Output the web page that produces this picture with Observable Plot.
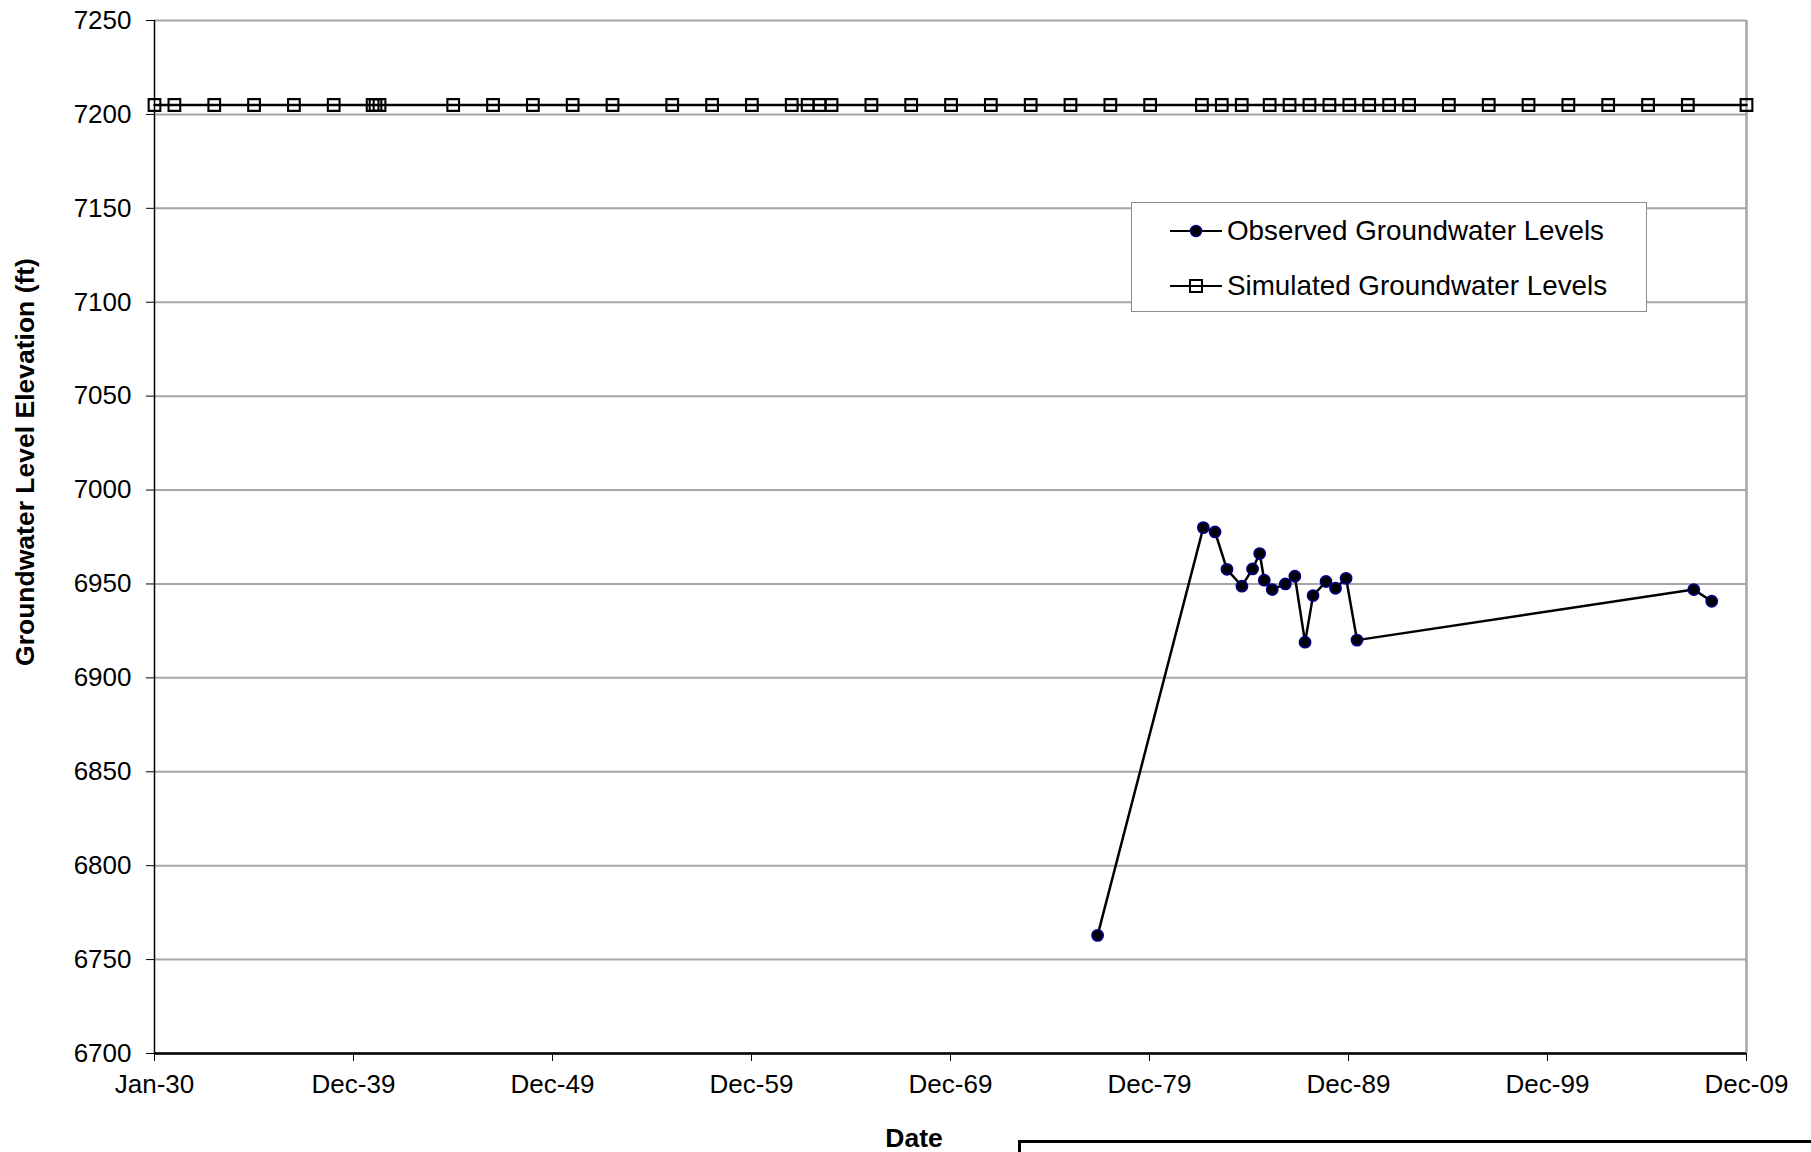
<!DOCTYPE html>
<html>
<head>
<meta charset="utf-8">
<script src="https://cdn.jsdelivr.net/npm/d3@7"></script>
<script src="https://cdn.jsdelivr.net/npm/@observablehq/plot@0.6"></script>
<style>
  html, body { margin: 0; padding: 0; background: #fff; overflow: hidden; }
  #wrap { position: relative; width: 1811px; height: 1152px; font-family: "Liberation Sans", Arial, sans-serif; color: #000; }
  #chart { position: absolute; left: 0; top: 0; }
  .lbl { position: absolute; font-weight: bold; font-size: 26.5px; white-space: nowrap; transform: translate(-50%, -50%); }
  #ytitle { transform: translate(-50%, -50%) rotate(-90deg); }
  #legend { position: absolute; left: 1131px; top: 202px; width: 516px; height: 110px; border: 1px solid #8c8c8c; background: #fff; box-sizing: border-box; }
  .item { position: absolute; left: 0; display: flex; align-items: center; font-size: 27.8px; height: 30px; }
  .item svg { margin-left: 38px; margin-right: 5px; }
  #bottombox { position: absolute; left: 1018px; top: 1140px; width: 900px; height: 100px; border: 3px solid #000; box-sizing: border-box; }
</style>
</head>
<body>
<div id="wrap">
  <div id="chart"></div>
  <div class="lbl" id="ytitle" style="left:25px; top:462px;">Groundwater Level Elevation (ft)</div>
  <div class="lbl" id="xtitle" style="left:914px; top:1138px;">Date</div>
  <div id="legend">
    <div class="item" style="top:13px;">
      <svg width="52" height="20"><line x1="0" y1="10" x2="52" y2="10" stroke="#000" stroke-width="2.2"/><circle cx="26" cy="10" r="5.5" fill="#000" stroke="#000080" stroke-width="1.5"/></svg>
      <span>Observed Groundwater Levels</span>
    </div>
    <div class="item" style="top:68px;">
      <svg width="52" height="20"><line x1="0" y1="10" x2="52" y2="10" stroke="#000" stroke-width="2.2"/><rect x="20" y="4" width="12" height="12" fill="none" stroke="#000" stroke-width="2"/></svg>
      <span>Simulated Groundwater Levels</span>
    </div>
  </div>
  <div id="bottombox"></div>
</div>
<script>
// ---- Data ----
const observedDates = ["1977-05-12","1982-09-02","1983-04-05","1983-11-10","1984-08-10","1985-02-21","1985-07-02","1985-09-24","1986-02-17","1986-10-16","1987-04-08","1987-10-12","1988-03-07","1988-10-30","1989-04-23","1989-11-03","1990-05-22","2007-04-20","2008-03-14"];
const observedLevels = [6762.9,6980.0,6977.7,6957.8,6948.8,6958.0,6966.2,6952.0,6947.0,6950.0,6954.1,6919.0,6943.8,6951.3,6947.7,6953.0,6920.1,6947.0,6940.8];

const simulatedDates = ["1930-01-01","1931-01-01","1933-01-01","1935-01-01","1937-01-01","1939-01-01","1940-12-15","1941-02-06","1941-04-20","1945-01-01","1947-01-01","1949-01-01","1951-01-01","1953-01-01","1956-01-01","1958-01-01","1960-01-01","1962-01-01","1962-10-20","1963-05-26","1964-01-01","1966-01-01","1968-01-01","1970-01-01","1972-01-01","1974-01-01","1976-01-01","1978-01-01","1980-01-01","1982-08-07","1983-08-07","1984-08-07","1986-01-01","1987-01-01","1988-01-01","1989-01-01","1990-01-01","1991-01-01","1992-01-01","1993-01-01","1995-01-01","1997-01-01","1999-01-01","2001-01-01","2003-01-01","2005-01-01","2007-01-01","2009-12-12"];
const simulatedLevels = simulatedDates.map(() => 7205);

const xDomain = ["1930-01-01", "2009-12-12"];
const xTickDates = ["1930-01-01","1939-12-30","1949-12-27","1959-12-25","1969-12-22","1979-12-20","1989-12-17","1999-12-15","2009-12-12"];
const xTickLabels = ["Jan-30","Dec-39","Dec-49","Dec-59","Dec-69","Dec-79","Dec-89","Dec-99","Dec-09"];
const yTicks = [6700,6750,6800,6850,6900,6950,7000,7050,7100,7150,7200,7250];

// ---- Build ----
const parse = s => new Date(s + "T00:00:00Z");
const observed = observedDates.map((d, i) => ({date: parse(d), level: observedLevels[i]}));
const simulated = simulatedDates.map((d, i) => ({date: parse(d), level: simulatedLevels[i]}));
const tickDates = xTickDates.map(parse);
const xStart = parse(xDomain[0]), xEnd = parse(xDomain[1]);

const chart = Plot.plot({
  width: 1811,
  height: 1152,
  marginLeft: 154,
  marginRight: 65,
  marginTop: 20,
  marginBottom: 99,
  style: {fontFamily: "'Liberation Sans', Arial, sans-serif", fontSize: "26px", color: "#000", background: "#fff", overflow: "visible"},
  x: {type: "utc", domain: [xStart, xEnd]},
  y: {domain: [yTicks[0], yTicks[yTicks.length - 1]]},
  marks: [
    Plot.gridY(yTicks, {stroke: "#a6a6a6", strokeOpacity: 1, strokeWidth: 2}),
    Plot.ruleX([xEnd], {stroke: "#a6a6a6", strokeWidth: 2.5}),
    Plot.axisY({ticks: yTicks, tickSize: 8, tickPadding: 15, tickFormat: d => String(d), label: null, stroke: "#000"}),
    Plot.axisX({ticks: tickDates, tickSize: 8, tickPadding: 13, tickFormat: (d, i) => xTickLabels[i], label: null, stroke: "#000"}),
    Plot.ruleX([xStart], {stroke: "#000", strokeWidth: 1.5}),
    Plot.ruleY([yTicks[0]], {stroke: "#000", strokeWidth: 2.5}),
    Plot.line(simulated, {x: "date", y: "level", stroke: "#000", strokeWidth: 2.5}),
    Plot.dot(simulated, {x: "date", y: "level", symbol: "square", r: 6.6, fill: "none", stroke: "#000", strokeWidth: 2.1}),
    Plot.line(observed, {x: "date", y: "level", stroke: "#000", strokeWidth: 2.5}),
    Plot.dot(observed, {x: "date", y: "level", r: 5.6, fill: "#000", stroke: "#000080", strokeWidth: 1.6})
  ]
});
document.getElementById("chart").appendChild(chart);
</script>
</body>
</html>
